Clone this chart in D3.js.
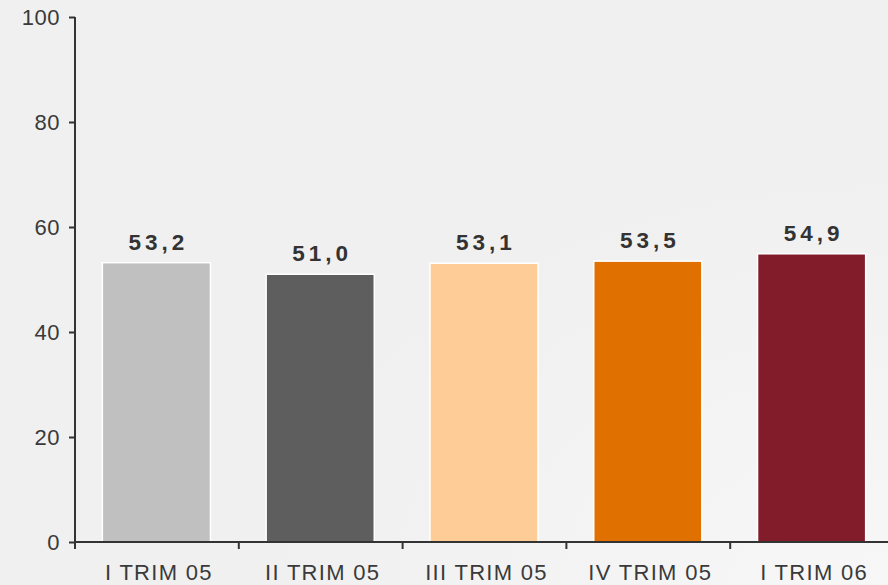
<!DOCTYPE html>
<html>
<head>
<meta charset="utf-8">
<script src="https://cdn.jsdelivr.net/npm/d3@7"></script>
<style>
  html, body { margin: 0; padding: 0; background: #f0f0f0; }
  svg { display: block; }
</style>
</head>
<body>
<div id="chart"></div>
<script>
const categories = ["I TRIM 05", "II TRIM 05", "III TRIM 05", "IV TRIM 05", "I TRIM 06"];
const values = [53.2, 51.0, 53.1, 53.5, 54.9];
const colors = ["#c0c0c0", "#5e5e5e", "#fecd97", "#e07000", "#821c2a"];
const yTicks = [0, 20, 40, 60, 80, 100];

const W = 888, H = 585;
let margin = { top: 17, right: -6, bottom: 43, left: 75 },
  width = W - margin.left - margin.right,
  height = H - margin.top - margin.bottom;

let svgRoot = d3.select("#chart")
  .append("svg")
  .attr("width", W)
  .attr("height", H);

// soft background, slightly lighter toward bottom right
let defs = svgRoot.append("defs");
let grad = defs.append("radialGradient")
  .attr("id", "bg")
  .attr("cx", "100%").attr("cy", "100%").attr("r", "70%");
grad.append("stop").attr("offset", "0%").attr("stop-color", "#f7f7f7");
grad.append("stop").attr("offset", "100%").attr("stop-color", "#f0f0f0");
svgRoot.append("rect")
  .attr("width", W).attr("height", H)
  .attr("fill", "url(#bg)");

let svg = svgRoot.append("g")
  .attr("transform", "translate(" + margin.left + "," + margin.top + ")");

let x = d3.scaleBand()
  .domain(categories)
  .range([0, width])
  .paddingInner(0.34)
  .paddingOuter(0.17);

let y = d3.scaleLinear()
  .domain([0, 100])
  .range([height, 0]);

// bars
svg.append("g")
  .selectAll("rect")
  .data(values)
  .enter()
  .append("rect")
  .attr("x", (d, i) => x(categories[i]) - 0.5)
  .attr("y", d => y(d))
  .attr("width", x.bandwidth())
  .attr("height", d => y(0) - y(d))
  .attr("fill", (d, i) => colors[i])
  .attr("stroke", "#ffffff")
  .attr("stroke-width", 1.5);

// value labels
svg.append("g")
  .selectAll("text")
  .data(values)
  .enter()
  .append("text")
  .attr("x", (d, i) => x(categories[i]) + x.bandwidth() / 2 + 1.5)
  .attr("y", d => y(d) - 13)
  .attr("text-anchor", "middle")
  .attr("font-family", "Liberation Sans, Arial, sans-serif")
  .attr("font-size", 22.5)
  .attr("font-weight", "bold")
  .attr("letter-spacing", "4px")
  .attr("fill", "#333333")
  .text(d => d.toFixed(1).replace(".", ","));

// y axis
let yAxisCall = d3.axisLeft(y).tickValues(yTicks).tickSize(6).tickSizeOuter(0).tickPadding(9);
let yAxis = svg.append("g")
  .attr("class", "y-axis")
  .call(yAxisCall);
yAxis.selectAll("text")
  .attr("font-family", "Liberation Sans, Arial, sans-serif")
  .attr("font-size", 22)
  .attr("letter-spacing", "0.5px")
  .attr("fill", "#3a3a3a");

// x axis: ticks at band boundaries
let xAxisG = svg.append("g")
  .attr("class", "x-axis")
  .attr("transform", "translate(0," + height + ")");
xAxisG.append("line")
  .attr("x1", 0).attr("x2", width + 20)
  .attr("stroke", "#333333").attr("stroke-width", 2);
let step = x.step();
xAxisG.selectAll(".tk")
  .data(categories)
  .enter()
  .append("line")
  .attr("class", "tk")
  .attr("x1", d => x(d) - x.paddingOuter() * step)
  .attr("x2", d => x(d) - x.paddingOuter() * step)
  .attr("y1", 0).attr("y2", 7)
  .attr("stroke", "#333333").attr("stroke-width", 2);
xAxisG.selectAll(".lbl")
  .data(categories)
  .enter()
  .append("text")
  .attr("class", "lbl")
  .attr("x", d => x(d) + x.bandwidth() / 2 + 2)
  .attr("y", 38)
  .attr("text-anchor", "middle")
  .attr("font-family", "Liberation Sans, Arial, sans-serif")
  .attr("font-size", 22)
  .attr("letter-spacing", "1.3px")
  .attr("fill", "#3a3a3a")
  .text(d => d);

svg.selectAll(".y-axis path, .y-axis line")
  .attr("stroke", "#333333")
  .attr("stroke-width", 2);
svg.select(".y-axis .domain").attr("d", "M0," + y(100) + "V" + (y(0) + 6));
</script>
</body>
</html>
